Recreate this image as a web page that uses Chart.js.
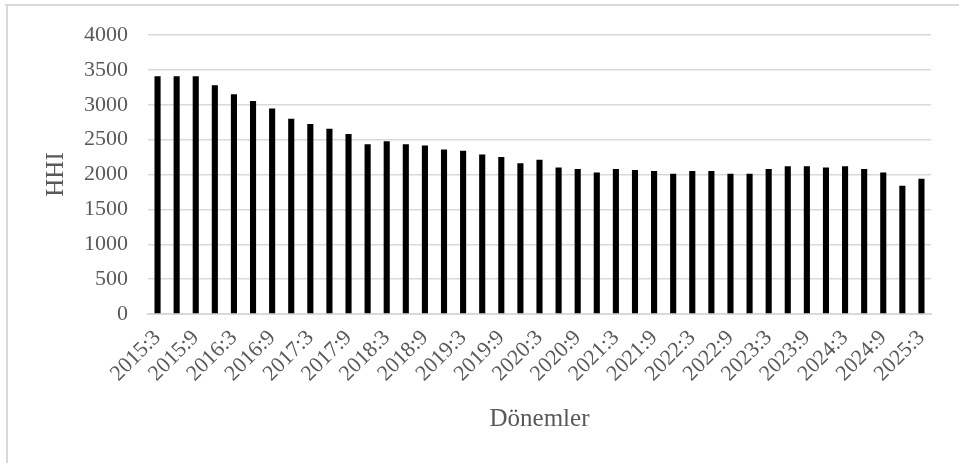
<!DOCTYPE html>
<html>
<head>
<meta charset="utf-8">
<script src="https://cdn.jsdelivr.net/npm/chart.js@4/dist/chart.umd.min.js"></script>
<style>
  html, body { margin: 0; padding: 0; background: #ffffff; }
  #wrap { position: relative; width: 959px; height: 463px; }
</style>
</head>
<body>
<div id="wrap"><canvas id="c" width="959" height="463"></canvas></div>
<script>
// Quarterly periods (year:month)
const periods = [
  '2015:3','2015:6','2015:9','2015:12',
  '2016:3','2016:6','2016:9','2016:12',
  '2017:3','2017:6','2017:9','2017:12',
  '2018:3','2018:6','2018:9','2018:12',
  '2019:3','2019:6','2019:9','2019:12',
  '2020:3','2020:6','2020:9','2020:12',
  '2021:3','2021:6','2021:9','2021:12',
  '2022:3','2022:6','2022:9','2022:12',
  '2023:3','2023:6','2023:9','2023:12',
  '2024:3','2024:6','2024:9','2024:12',
  '2025:3'
];

// Herfindahl-Hirschman Index per period
const hhiValues = [
  3410, 3410, 3410, 3280,
  3150, 3055, 2945, 2800,
  2725, 2655, 2580, 2435,
  2475, 2435, 2415, 2360,
  2340, 2285, 2250, 2160,
  2210, 2100, 2080, 2030,
  2080, 2065, 2050, 2010,
  2050, 2050, 2010, 2010,
  2080, 2120, 2120, 2100,
  2120, 2080, 2030, 1840,
  1940
];

const yTicks = [0, 500, 1000, 1500, 2000, 2500, 3000, 3500, 4000];

const xTitle = 'Dönemler';
const yTitle = 'HHI';

const FONT = "'Liberation Serif', 'Times New Roman', serif";
const TEXT = '#595959';
const GRID = '#d9d9d9';

// Light frame along the top and left edges of the chart box
const framePlugin = {
  id: 'frame',
  beforeDraw(chart) {
    const ctx = chart.ctx;
    ctx.save();
    ctx.fillStyle = '#ffffff';
    ctx.fillRect(0, 0, chart.width, chart.height);
    ctx.fillStyle = GRID;
    ctx.fillRect(5, 4, chart.width - 5, 2);
    ctx.fillRect(6, 4, 2, chart.height - 4);
    ctx.restore();
  }
};

new Chart(document.getElementById('c'), {
  type: 'bar',
  data: {
    labels: periods,
    datasets: [{
      label: yTitle,
      data: hhiValues,
      backgroundColor: '#000000',
      borderWidth: 0,
      categoryPercentage: 1,
      barPercentage: 0.32
    }]
  },
  plugins: [framePlugin],
  options: {
    responsive: false,
    animation: false,
    devicePixelRatio: 1,
    layout: { padding: { left: 37, top: 35, right: 28, bottom: 25 } },
    plugins: {
      legend: { display: false },
      tooltip: { enabled: false }
    },
    scales: {
      x: {
        offset: true,
        grid: { display: false, drawTicks: false },
        border: { display: true, color: GRID, width: 2 },
        ticks: {
          autoSkip: false,
          minRotation: 45,
          maxRotation: 45,
          padding: 11,
          color: TEXT,
          font: { family: FONT, size: 22 },
          callback(value, index) {
            return index % 2 === 0 ? periods[index] : '';
          }
        },
        title: {
          display: true,
          text: xTitle,
          color: TEXT,
          font: { family: FONT, size: 25 },
          padding: { top: 4, bottom: 4 }
        },
        afterFit(scale) { scale.height = 124; }
      },
      y: {
        min: 0,
        max: 4000,
        grid: { color: GRID, lineWidth: 1.5, drawTicks: false },
        border: { display: false },
        afterBuildTicks(scale) {
          scale.ticks = yTicks.map(v => ({ value: v }));
        },
        ticks: {
          padding: 20,
          color: TEXT,
          font: { family: FONT, size: 22 },
          callback(value) { return String(value); }
        },
        title: {
          display: true,
          text: yTitle,
          color: TEXT,
          font: { family: FONT, size: 25 },
          padding: { top: 4, bottom: 4 }
        },
        afterFit(scale) { scale.width = 111; }
      }
    }
  }
});
</script>
</body>
</html>
